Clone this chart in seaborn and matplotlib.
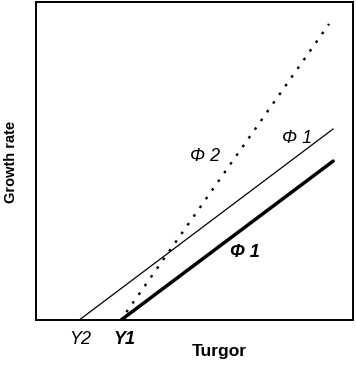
import seaborn as sns
import matplotlib.pyplot as plt

sns.set_style("white")
plt.rcParams['font.family'] = ['Liberation Sans', 'DejaVu Sans']
plt.rcParams['text.color'] = 'black'
plt.rcParams['axes.labelcolor'] = 'black'
plt.rcParams['xtick.color'] = 'black'

# growth rate vs turgor, two yield thresholds (Y2 < Y1), extensibility phi
thin_turgor = [1.36, 9.37]
thin_growth = [0.0, 6.01]
thick_turgor = [2.68, 9.37]
thick_growth = [0.0, 5.0]
dot_turgor = [2.85, 9.24]
dot_growth = [0.25, 9.31]

yield_pos = [1.39, 2.78]
yield_labels = ['Y2', 'Y1']

fig = plt.figure(figsize=(3.56, 3.65), dpi=100)
ax = fig.add_axes([0.101, 0.123, 0.891, 0.8715])

sns.lineplot(x=thin_turgor, y=thin_growth, ax=ax, color='black', linewidth=0.9)
sns.lineplot(x=thick_turgor, y=thick_growth, ax=ax, color='black', linewidth=2.5)
sns.lineplot(x=dot_turgor, y=dot_growth, ax=ax, color='black', linewidth=1.7,
             linestyle=(0, (1.1, 3.4)))

ax.set_xlim(0, 10)
ax.set_ylim(0, 10)

ax.set_xticks(yield_pos)
ax.set_xticklabels(yield_labels, fontsize=13)
labs = ax.get_xticklabels()
labs[0].set_fontstyle('italic')
labs[1].set_fontstyle('italic')
labs[1].set_fontweight('bold')
ax.tick_params(axis='x', length=0, pad=8)
ax.set_yticks([])

for s in ax.spines.values():
    s.set_color('black')
    s.set_linewidth(1.4)

ax.text(5.33, 5.13, 'Φ 2', fontsize=13, fontstyle='italic', ha='center', va='center')
ax.text(8.23, 5.72, 'Φ 1', fontsize=13, fontstyle='italic', ha='center', va='center')
ax.text(6.59, 2.11, 'Φ 1', fontsize=13, fontstyle='italic', fontweight='bold',
        ha='center', va='center')

ax.set_xlabel('Turgor', fontsize=12.5, fontweight='bold')
ax.xaxis.set_label_coords(0.577, -0.075)
ax.set_ylabel('Growth rate', fontsize=10.5, fontweight='bold')
ax.yaxis.set_label_coords(-0.056, 0.497)

plt.savefig('out.png', dpi=100)
